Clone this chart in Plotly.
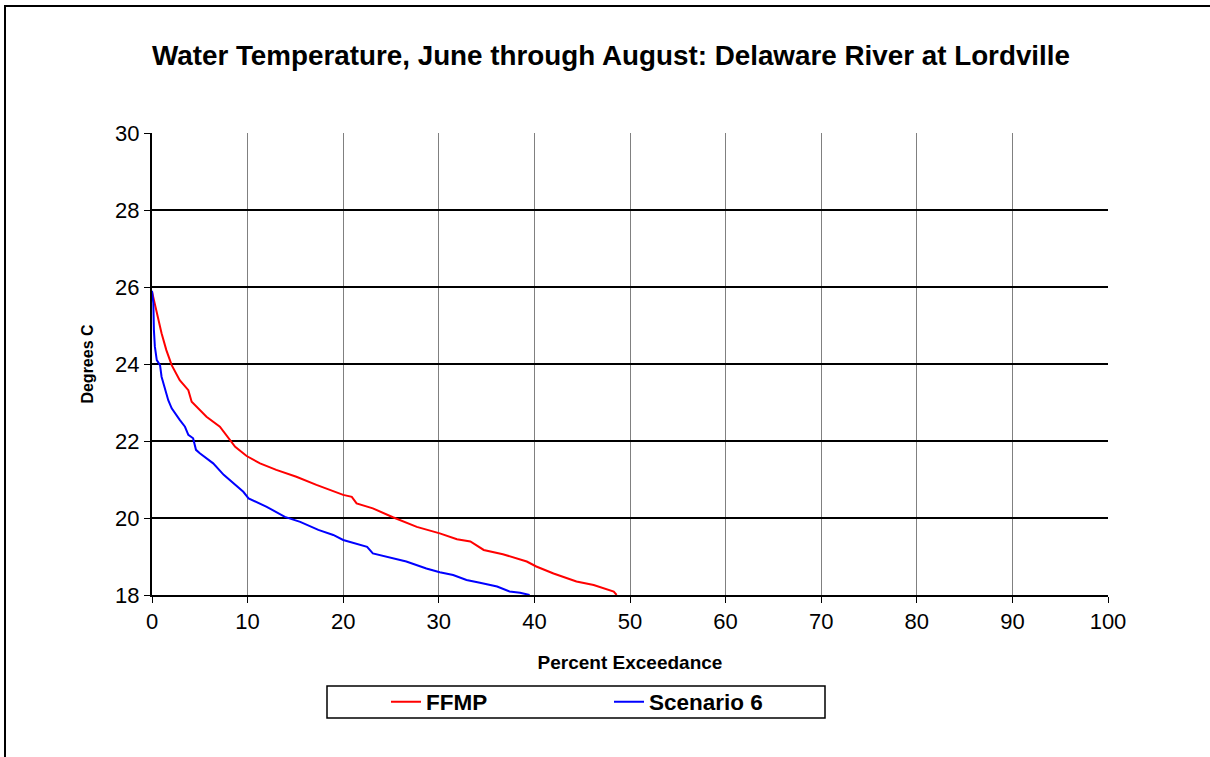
import plotly.graph_objects as go

# FFMP series (percent exceedance, degrees C)
ffmp_pct = [0, 0.5, 1.0, 1.5, 2.06, 2.9, 3.8, 4.15, 5.7, 7.1, 8.3, 8.7, 9.9, 11.3, 13.0, 15.1,
            17.2, 20.0, 20.9, 21.4, 23.1, 25.2, 27.7, 30.1, 31.9, 33.3, 34.7, 36.7, 39.2, 40.2,
            42.0, 44.4, 46.2, 48.3, 48.6]
ffmp_temp = [25.88, 25.32, 24.8, 24.36, 23.97, 23.58, 23.32, 23.02, 22.63, 22.37, 22.0, 21.85,
             21.61, 21.42, 21.25, 21.07, 20.86, 20.6, 20.55, 20.38, 20.25, 20.02, 19.77, 19.6,
             19.45, 19.39, 19.17, 19.06, 18.87, 18.74, 18.56, 18.35, 18.26, 18.09, 18.0]

# Scenario 6 series
scen_pct = [0.0, 0.14, 0.2, 0.3, 0.5, 0.84, 1.0, 1.36, 1.7, 2.06, 2.4, 2.9, 3.45, 3.8, 4.3, 4.6,
            5.0, 5.2, 6.4, 7.5, 8.5, 9.55, 10.1, 12.0, 13.9, 15.5, 17.4, 18.96, 20.0, 22.5, 23.1,
            24.5, 26.6, 28.7, 30.1, 31.5, 32.9, 34.3, 36.1, 37.4, 38.5, 39.5]
scen_temp = [25.9, 25.58, 24.88, 24.45, 24.1, 23.97, 23.67, 23.32, 23.06, 22.85, 22.72, 22.55,
             22.37, 22.16, 22.07, 21.77, 21.68, 21.64, 21.42, 21.12, 20.9, 20.68, 20.51, 20.29,
             20.03, 19.9, 19.69, 19.56, 19.43, 19.25, 19.08, 19.0, 18.87, 18.69, 18.59, 18.52,
             18.39, 18.32, 18.22, 18.09, 18.06, 18.0]

x_ticks = [0, 10, 20, 30, 40, 50, 60, 70, 80, 90, 100]
y_ticks = [18, 20, 22, 24, 26, 28, 30]

FONT = "Liberation Sans, Arial, sans-serif"

fig = go.Figure()
fig.add_trace(go.Scatter(x=ffmp_pct, y=ffmp_temp, mode="lines", name="<b>FFMP</b>",
                         line=dict(color="#FF0000", width=2)))
fig.add_trace(go.Scatter(x=scen_pct, y=scen_temp, mode="lines", name="<b>Scenario 6</b>",
                         line=dict(color="#0000FF", width=2)))

# figure is a little wider than the window so the chart frame's right edge falls outside
L, R, T, B = 152, 122, 133, 162
W, H = 1230, 757
pw, ph = W - L - R, H - T - B

def px(xp):
    return (xp - L) / pw

def py(yp):
    return (H - B - yp) / ph

fig.update_layout(
    width=W, height=H,
    margin=dict(l=L, r=R, t=T, b=B),
    paper_bgcolor="white", plot_bgcolor="white",
    font=dict(family=FONT, color="black"),
    title=dict(text="<b>Water Temperature, June through August: Delaware River at Lordville</b>",
               x=px(611), xref="paper", xanchor="center", y=1 - 55 / H, yanchor="middle",
               font=dict(size=27.8, family=FONT, color="black")),
    xaxis=dict(range=[0, 100], tickvals=x_ticks, ticktext=[str(v) for v in x_ticks],
               showgrid=True, gridcolor="#808080", gridwidth=1,
               ticks="outside", ticklen=6, tickcolor="black", tickwidth=1,
               showline=True, linecolor="black", linewidth=2,
               zeroline=False, tickfont=dict(size=22, family=FONT),
               title=dict(text="<b>Percent Exceedance</b>", font=dict(size=19, family=FONT),
                          standoff=22)),
    yaxis=dict(range=[18, 30], tickvals=y_ticks, ticktext=[str(v) for v in y_ticks],
               showgrid=True, gridcolor="black", gridwidth=1.5,
               ticks="outside", ticklen=6, tickcolor="black", tickwidth=1,
               showline=True, linecolor="black", linewidth=2,
               zeroline=False, tickfont=dict(size=22, family=FONT),
               title=dict(text="<b>Degrees C</b>", font=dict(size=16, family=FONT),
                          standoff=18)),
    showlegend=True,
    legend=dict(orientation="h", x=px(388 - 2), xanchor="left", y=py(702), yanchor="middle",
                bgcolor="rgba(0,0,0,0)", borderwidth=0, entrywidth=178, entrywidthmode="pixels",
                font=dict(size=22.5, family=FONT)),
)

# legend box
fig.add_shape(type="rect", xref="paper", yref="paper",
              x0=px(327), x1=px(825), y0=py(718), y1=py(686),
              line=dict(color="black", width=1.5), fillcolor="rgba(0,0,0,0)", layer="below")
# outer chart border: only top and left edges are inside the picture
fig.add_shape(type="line", xref="paper", yref="paper",
              x0=px(4), x1=px(1230), y0=py(6), y1=py(6),
              line=dict(color="black", width=2))
fig.add_shape(type="line", xref="paper", yref="paper",
              x0=px(5), x1=px(5), y0=py(5), y1=py(757),
              line=dict(color="black", width=2))

fig.write_html("out.html", config={"displayModeBar": False},
               post_script="document.body.style.margin='0';document.body.style.overflow='hidden';")
